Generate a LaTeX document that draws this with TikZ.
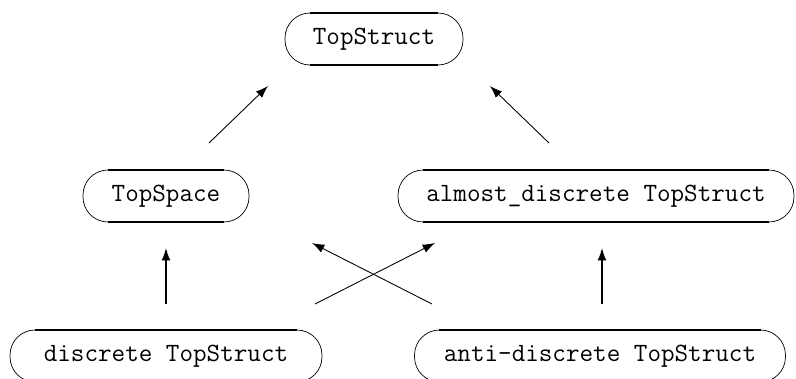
\documentclass[tikz,border=0pt]{standalone}
\usetikzlibrary{arrows.meta}

\tikzset{
  oval/.style={rectangle, draw, line width=0.4pt, rounded corners=0.5cm,
    minimum height=1.04cm, inner sep=0pt,
    font=\fontsize{15}{18}\selectfont\ttfamily},
  rim/.style={line width=1.1pt},
  up/.style={line width=0.5pt, -{Latex[length=7pt,width=5pt]}}
}

\begin{document}
\begin{tikzpicture}[x=0.02cm,y=-0.02cm]

\useasboundingbox (0,0) rectangle (796,379);

% Draw the nodes
\node[oval, minimum width=3.56cm] (top) at (374,39) {TopStruct};
\node[oval, minimum width=3.32cm] (space) at (166,196) {TopSpace};
\node[oval, minimum width=7.92cm] (almost) at (596,196) {almost\_discrete TopStruct};
\node[oval, minimum width=6.24cm] (discrete) at (166,356) {discrete TopStruct};
\node[oval, minimum width=7.42cm] (anti) at (600,356) {anti-discrete TopStruct};

% Thicken the flat top and bottom of each oval
\foreach \n in {top,space,almost,discrete,anti} {
  \draw[rim] ([xshift=0.5cm]\n.north west) -- ([xshift=-0.5cm]\n.north east);
  \draw[rim] ([xshift=0.5cm]\n.south west) -- ([xshift=-0.5cm]\n.south east);
}

% Arrow ends
\coordinate (sp1) at (209,143); \coordinate (tp1) at (268,86);
\coordinate (sp2) at (549,143); \coordinate (tp2) at (490,86);
\coordinate (ds1) at (166,304); \coordinate (ds2) at (166,248);
\coordinate (an1) at (602,304); \coordinate (an2) at (602,248);
\coordinate (cr1) at (315,304); \coordinate (cr2) at (435,243);
\coordinate (cr3) at (432,304); \coordinate (cr4) at (312,243);

% Draw the arrows
\draw[up] (sp1) -- (tp1);
\draw[up] (sp2) -- (tp2);
\draw[up, line width=0.8pt] (ds1) -- (ds2);
\draw[up, line width=0.8pt] (an1) -- (an2);
\draw[up] (cr1) -- (cr2);
\draw[up] (cr3) -- (cr4);

\end{tikzpicture}
\end{document}
